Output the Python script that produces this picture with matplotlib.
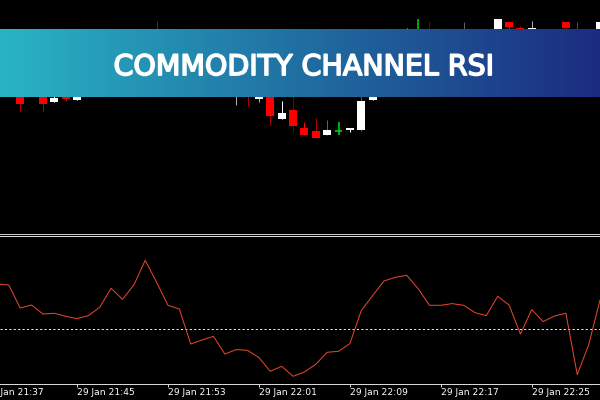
import numpy as np
import matplotlib
matplotlib.use("Agg")
import matplotlib.pyplot as plt
import matplotlib.patheffects as pe
from matplotlib.colors import LinearSegmentedColormap
from matplotlib.transforms import blended_transform_factory

# Candles visible outside the banner (price in chart units, up from the pane bottom)
bar_index = [-1, 1, 3, 4, 5, 6, 13, 20, 21, 22, 23, 24, 25, 26, 27, 28, 29, 30, 31, 32,
             35, 36, 37, 40, 43, 44, 45, 46, 47, 49, 50, 52]
bar_open  = [150, 150, 150, 130, 150, 132, 190, 150, 150, 133, 135, 113, 122, 104, 101, 97, 101, 102, 102, 132,
             190, 190, 199, 190, 190, 210, 204, 190, 199, 210, 199, 190]
bar_close = [170, 128, 128, 134, 133.5, 150, 180, 170, 140, 150, 116, 119, 106, 97, 94, 102, 101, 104.5, 131, 160,
             198, 190, 190, 198, 213.5, 205, 190, 204, 190, 204, 190, 210]
bar_high  = [175, 155, 155, 150, 155, 150, 211, 170, 150, 160, 140, 131, 140, 110, 114, 112, 110, 104.5, 160, 170,
             204, 213.3, 211, 210, 213.5, 210, 206, 211, 203.5, 210, 210, 210]
bar_low   = [128, 121, 121, 130, 131, 132, 180, 127.5, 126, 130, 107, 113, 100, 97, 94, 97, 97, 100, 101, 132,
             190, 185, 185, 185, 190, 195, 185, 190, 185, 195, 185, 190]
wick_dim  = [0, 1, 1, 0, 1, 0, 1, 1, 1, 1, 1, 0, 2, 0, 1, 2, 0, 0, 2, 0,
             0, 0, 2, 2, 0, 0, 1, 1, 0, 1, 0, 0]

# Indicator line, one value per bar from index -1 to 52
cci_index = list(range(-1, 53))
cci_rsi = [45.3, 44.3, 21.3, 24.3, 15.3, 16, 13, 10.7, 13.7, 22, 41, 30, 44.3, 69, 47, 24, 20.3,
           -14.7, -10.7, -7, -24.7, -20.3, -21, -28.3, -42, -37, -47, -42.7, -35, -23, -22, -14.3,
           18.7, 33.7, 48.3, 52, 54, 40.7, 24, 24, 25.7, 24, 16.7, 13.7, 33, 24.3, -4.7, 19.7,
           7.7, 13.3, 16, -45.3, -15.7, 29.3]
level = 0

# Time axis
tick_index = [-2, 6, 14, 22, 30, 38, 46]
tick_labels = ["29 Jan 21:37", "29 Jan 21:45", "29 Jan 21:53", "29 Jan 22:01",
               "29 Jan 22:09", "29 Jan 22:17", "29 Jan 22:25"]
title = "COMMODITY CHANNEL RSI"
banner_colors = ["#29b4c5", "#206fa2", "#1b2c80"]

W, H = 600, 400
XLIM = (-0.774, 52.0)
PX = 0.72  # one pixel, in points


def pane(top, bottom):
    return [0, 1 - bottom / H, 1, (bottom - top) / H]


fig = plt.figure(figsize=(W / 100, H / 100), dpi=100, facecolor="black")

# Price pane
ax = fig.add_axes(pane(0, 233.5), facecolor="black")
ax.set_xlim(XLIM)
ax.set_ylim(-1.5, 232)
for s in ("top", "left", "right"):
    ax.spines[s].set_visible(False)
ax.spines["bottom"].set_color("#c8c8c8")
ax.spines["bottom"].set_linewidth(PX)
ax.set_xticks([])
ax.set_yticks([])

for i, o, c, h, l, d in zip(bar_index, bar_open, bar_close, bar_high, bar_low, wick_dim):
    wick_lw = PX
    if c > o:
        col, wicks = "white", ["#ffffff", "#b0b0b0", "#606060"]
    elif c < o:
        col, wicks = "#ff0000", ["#ff0000", "#b00000", "#700000"]
    else:
        col, wicks = "#00e000", ["#00e000", "#00e000", "#00e000"]
        wick_lw = 1.1
    ax.vlines(i, l, h, color=wicks[d], lw=wick_lw, zorder=2, snap=True)
    if c == o:
        ax.hlines(o, i - 0.33, i + 0.33, color=col, lw=wick_lw, zorder=3, snap=True)
    else:
        ax.bar(i, abs(c - o), bottom=min(o, c), width=0.7, color=col, linewidth=0, zorder=3)

# Indicator pane
ax2 = fig.add_axes(pane(235.5, 383.5), facecolor="black")
ax2.set_xlim(XLIM)
ax2.set_ylim(-54.2, 93.8)
for s in ("left", "right"):
    ax2.spines[s].set_visible(False)
for s in ("top", "bottom"):
    ax2.spines[s].set_color("#d8d8d8")
    ax2.spines[s].set_linewidth(PX)
ax2.plot(cci_index, cci_rsi, color="#e8472e", lw=0.72, zorder=3)
ax2.axhline(level, color="#e6e6e6", lw=PX, dashes=(2.2, 2.2), zorder=2)
ax2.set_yticks([])
ax2.set_xticks([t for t in tick_index if XLIM[0] <= t <= XLIM[1]])
ax2.set_xticklabels([])
ax2.tick_params(axis="x", length=2, width=PX, color="#d8d8d8")
trans = blended_transform_factory(ax2.transData, ax2.transAxes)
for t, lab in zip(tick_index, tick_labels):
    ax2.text(t, -0.058, lab, transform=trans, color="white", fontsize=6.6,
             family="DejaVu Sans", ha="left", va="center", clip_on=False)

# Banner
ax3 = fig.add_axes(pane(29, 97), zorder=5)
cmap = LinearSegmentedColormap.from_list("banner", banner_colors)
ax3.imshow(np.linspace(0, 1, 600).reshape(1, -1), cmap=cmap, aspect="auto", extent=(0, 1, 0, 1))
ax3.set_axis_off()
ax3.text(0.5058, 0.44, title, transform=ax3.transAxes, color="white", fontsize=20.5,
         family="DejaVu Sans", ha="center", va="center",
         path_effects=[pe.Stroke(linewidth=1.2, foreground="white"), pe.Normal()])

fig.savefig("out.png", dpi=100, facecolor="black")
